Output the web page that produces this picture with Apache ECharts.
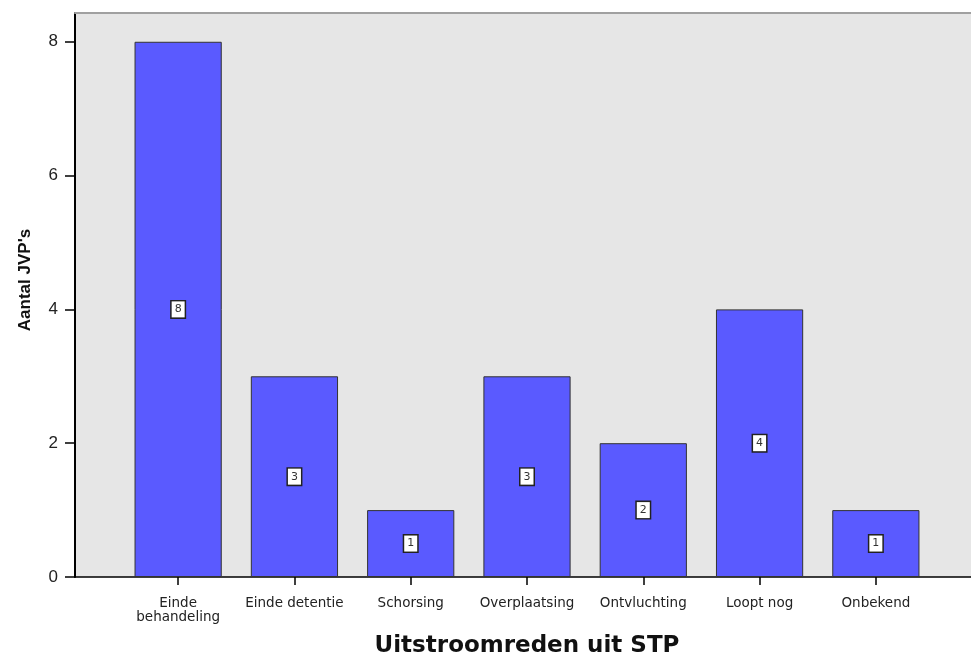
<!DOCTYPE html>
<html>
<head>
<meta charset="utf-8">
<script src="https://cdn.jsdelivr.net/npm/echarts@6/dist/echarts.min.js"></script>
<style>
	html, body { margin: 0; padding: 0; background: #fff; }
	#chart { width: 971px; height: 655px; }
</style>
</head>
<body>
<div id="chart"></div>
<script>
'use strict';

// categorieen en aantallen
var categories = ['Einde\nbehandeling', 'Einde detentie', 'Schorsing', 'Overplaatsing', 'Ontvluchting', 'Loopt nog', 'Onbekend'];
var counts = [8, 3, 1, 3, 2, 4, 1];
var yTicks = [0, 2, 4, 6, 8];

(function(){
	var black = '#000',
			axisFont = 'DejaVu Sans',
			hidden = { show: false };

	var option = {
		animation: false,
		backgroundColor: '#fff',
		grid: [
			// grid voor de balken
			{ left: 120, right: 37, top: 13, bottom: 78, outerBoundsMode: 'none' },
			// achtergrond van het plotgebied
			{ left: 75, right: 0, top: 13, bottom: 78, outerBoundsMode: 'none', show: true,
				backgroundColor: '#e6e6e6', borderWidth: 0 },
		],
		xAxis: [
			{
				type: 'category',
				gridIndex: 0,
				data: categories,
				axisLine: hidden,
				axisTick: { show: true, alignWithLabel: true, length: 8, lineStyle: { color: black, width: 1.5 } },
				axisLabel: { interval: 0, hideOverlap: false, color: '#222', fontFamily: axisFont, fontSize: 13.5, lineHeight: 14, margin: 19 },
				name: 'Uitstroomreden uit STP',
				nameLocation: 'middle',
				nameGap: 58,
				nameTextStyle: { fontFamily: axisFont, fontWeight: 'bold', fontSize: 23, color: '#111' },
			},
			{
				type: 'value',
				gridIndex: 1,
				axisLine: { show: true, onZero: false, lineStyle: { color: black, width: 1.5 } },
				axisTick: hidden,
				axisLabel: hidden,
				splitLine: hidden,
			},
			{
				// grijze bovenrand
				type: 'value',
				gridIndex: 1,
				position: 'top',
				axisLine: { show: true, onZero: false, lineStyle: { color: '#a0a0a0', width: 2 } },
				axisTick: hidden,
				axisLabel: hidden,
				splitLine: hidden,
			},
		],
		yAxis: [
			{
				type: 'value',
				gridIndex: 0,
				min: 0,
				max: 8.43,
				offset: 45,
				axisLine: { show: true, lineStyle: { color: black, width: 2 } },
				axisTick: { show: true, length: 10, customValues: yTicks, lineStyle: { color: black, width: 1.5 } },
				axisLabel: { customValues: yTicks, color: '#222', fontFamily: 'Liberation Sans', fontSize: 17, margin: 17 },
				splitLine: hidden,
				name: "Aantal JVP's",
				nameLocation: 'middle',
				nameGap: 41,
				nameTextStyle: {
					fontFamily: 'Liberation Sans',
					fontWeight: 'bold',
					fontSize: 17,
					color: '#111',
					padding: [0, 0, 0, 30],
				},
			},
			{
				type: 'value',
				gridIndex: 1,
				show: false,
			},
		],
		series: [{
			type: 'bar',
			xAxisIndex: 0,
			yAxisIndex: 0,
			data: counts,
			barCategoryGap: '25%',
			itemStyle: { color: '#5a5aff', borderColor: '#333', borderWidth: 1 },
			label: {
				show: true,
				position: 'inside',
				color: '#333',
				fontFamily: axisFont,
				fontSize: 11,
				backgroundColor: '#fff',
				borderColor: '#222',
				borderWidth: 1.5,
				padding: [3, 3, 2, 3],
			},
		}],
	};

	echarts.init(document.getElementById('chart')).setOption(option);
})();
</script>
</body>
</html>
